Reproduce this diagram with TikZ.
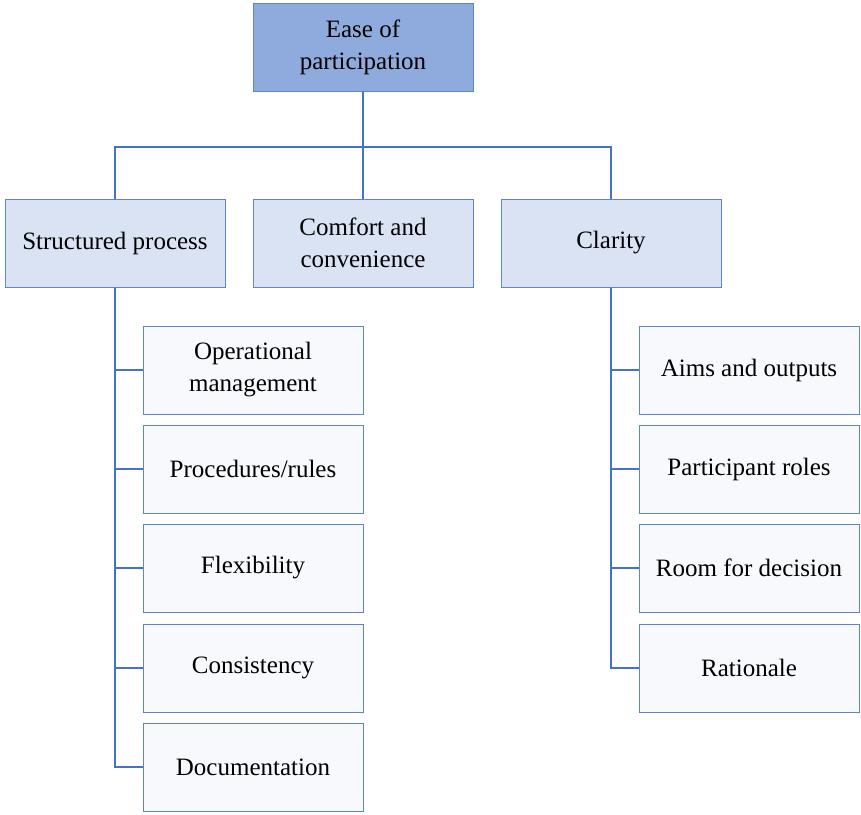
\documentclass[tikz,border=0pt]{standalone}
\usepackage{fontspec}
\setmainfont{Liberation Serif}
\begin{document}
\definecolor{edgeblue}{RGB}{68,114,196}
\definecolor{boxline}{RGB}{95,132,205}
\definecolor{rootfill}{RGB}{143,170,220}
\definecolor{midfill}{RGB}{218,227,243}
\definecolor{leaffill}{RGB}{247,249,253}
\begin{tikzpicture}[x=1pt,y=-1pt,
  box/.style={draw=boxline,line width=1pt,minimum width=220pt,minimum height=88pt,
    align=center,font=\fontsize{25}{32}\selectfont,inner sep=2pt},
  rootbox/.style={box,fill=rootfill},
  midbox/.style={box,fill=midfill},
  leafbox/.style={box,fill=leaffill},
  link/.style={draw=edgeblue,line width=1.4pt}]
\useasboundingbox (0,0) rectangle (861,814);
% root
\node[rootbox] (root) at (363,47) {Ease of\\participation};
% second level
\node[midbox] (sp) at (115,243) {Structured process};
\node[midbox] (cc) at (363,243) {Comfort and\\convenience};
\node[midbox] (cl) at (611,243) {Clarity};
% leaves under structured process
\node[leafbox] (om) at (253,370) {Operational\\management};
\node[leafbox] (pr) at (253,469) {Procedures/rules};
\node[leafbox] (fx) at (253,568) {Flexibility};
\node[leafbox] (cs) at (253,668) {Consistency};
\node[leafbox] (dc) at (253,767) {Documentation};
% leaves under clarity
\node[leafbox] (ao) at (749,370) {Aims and outputs};
\node[leafbox] (rl) at (749,469) {Participant roles};
\node[leafbox] (rd) at (749,568) {Room for decision};
\node[leafbox] (ra) at (749,668) {Rationale};
% root to second level
\coordinate (bus) at (363,147);
\path[link] (root.south) -- (bus);
\path[link] (sp.north) |- (bus) -| (cl.north);
\path[link] (bus) -- (cc.north);
% structured process trunk
\path[link] (sp.south) |- (dc.west);
\foreach \n in {om,pr,fx,cs} \path[link] (sp.south) |- (\n.west);
% clarity trunk
\path[link] (cl.south) |- (ra.west);
\foreach \n in {ao,rl,rd} \path[link] (cl.south) |- (\n.west);
\end{tikzpicture}
\end{document}
